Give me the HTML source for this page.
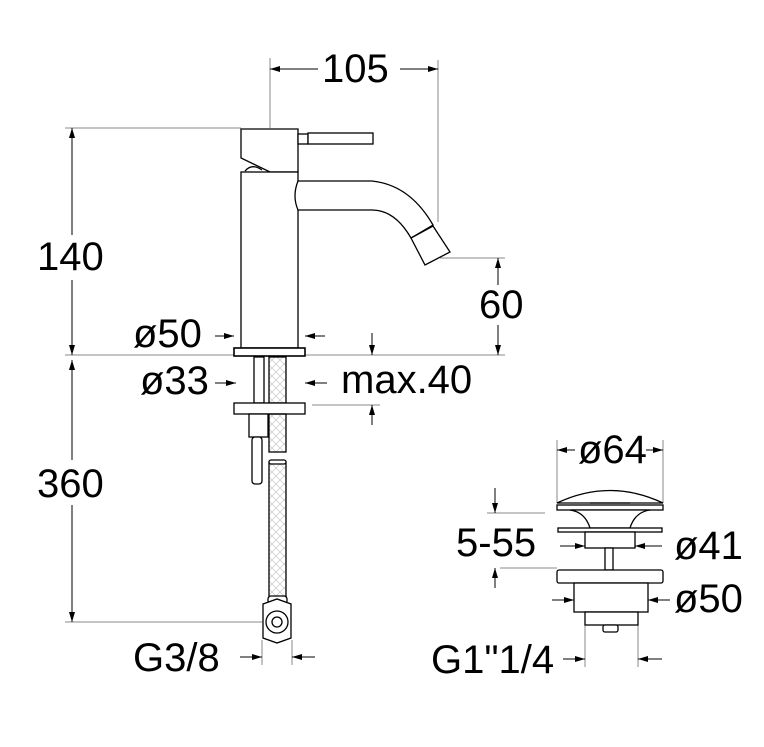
<!DOCTYPE html>
<html><head><meta charset="utf-8"><style>html,body{margin:0;background:#fff}svg{display:block}text{font-family:"Liberation Sans",Arial,sans-serif;font-size:40px;fill:#000}</style></head><body>
<svg width="764" height="747" viewBox="0 0 764 747" xmlns="http://www.w3.org/2000/svg">
<defs>
<marker id="a" viewBox="0 0 10 6" refX="10" refY="3" markerWidth="10" markerHeight="6" markerUnits="userSpaceOnUse" orient="auto"><path d="M0,0L10,3L0,6z" fill="#000"/></marker>
<pattern id="h" width="8" height="8" patternUnits="userSpaceOnUse"><path d="M0,0L8,8M8,0L0,8" stroke="#bbb" stroke-width="0.6"/></pattern>
</defs>
<g stroke="#888" stroke-width="1" fill="none">
<line x1="270" y1="58" x2="270" y2="128"/>
<line x1="438" y1="60" x2="438" y2="222"/>
<line x1="65" y1="128" x2="241" y2="128"/>
<line x1="65" y1="355" x2="505" y2="355"/>
<line x1="440" y1="258" x2="505" y2="258"/>
<line x1="312" y1="405" x2="380" y2="405"/>
<line x1="65" y1="622" x2="262" y2="622"/>
<line x1="262" y1="640" x2="262" y2="665"/>
<line x1="292" y1="640" x2="292" y2="665"/>
<line x1="557" y1="440" x2="557" y2="503"/>
<line x1="663" y1="440" x2="663" y2="503"/>
<line x1="487" y1="513" x2="545" y2="513"/>
<line x1="500" y1="568" x2="557" y2="568"/>
<line x1="585" y1="612" x2="585" y2="667"/>
<line x1="638" y1="612" x2="638" y2="667"/>
<line x1="270" y1="130" x2="270" y2="330" stroke-dasharray="12,4"/>
</g>
<g stroke="#000" stroke-width="1" fill="none">
<line x1="270" y1="69" x2="318" y2="69"/><line x1="284" y1="69" x2="270" y2="69" marker-end="url(#a)"/>
<line x1="400" y1="69" x2="438" y2="69"/><line x1="424" y1="69" x2="438" y2="69" marker-end="url(#a)"/>
<line x1="72" y1="128" x2="72" y2="235"/><line x1="72" y1="142" x2="72" y2="128" marker-end="url(#a)"/>
<line x1="72" y1="280" x2="72" y2="355"/><line x1="72" y1="341" x2="72" y2="355" marker-end="url(#a)"/>
<line x1="72" y1="360" x2="72" y2="460"/><line x1="72" y1="374" x2="72" y2="360" marker-end="url(#a)"/>
<line x1="72" y1="505" x2="72" y2="622"/><line x1="72" y1="608" x2="72" y2="622" marker-end="url(#a)"/>
<line x1="498" y1="258" x2="498" y2="285"/><line x1="498" y1="272" x2="498" y2="258" marker-end="url(#a)"/>
<line x1="498" y1="325" x2="498" y2="355"/><line x1="498" y1="341" x2="498" y2="355" marker-end="url(#a)"/>
<line x1="215" y1="336" x2="234" y2="336" marker-end="url(#a)"/>
<line x1="325" y1="336" x2="305" y2="336" marker-end="url(#a)"/>
<line x1="215" y1="383" x2="236" y2="383" marker-end="url(#a)"/>
<line x1="327" y1="383" x2="305" y2="383" marker-end="url(#a)"/>
<line x1="372" y1="333" x2="372" y2="355" marker-end="url(#a)"/>
<line x1="372" y1="425" x2="372" y2="405" marker-end="url(#a)"/>
<line x1="240" y1="657" x2="262" y2="657" marker-end="url(#a)"/>
<line x1="315" y1="657" x2="292" y2="657" marker-end="url(#a)"/>
<line x1="557" y1="450" x2="575" y2="450"/><line x1="570" y1="450" x2="557" y2="450" marker-end="url(#a)"/>
<line x1="646" y1="450" x2="663" y2="450"/><line x1="650" y1="450" x2="663" y2="450" marker-end="url(#a)"/>
<line x1="495" y1="488" x2="495" y2="513" marker-end="url(#a)"/>
<line x1="495" y1="588" x2="495" y2="568" marker-end="url(#a)"/>
<line x1="560" y1="546" x2="585" y2="546" marker-end="url(#a)"/>
<line x1="662" y1="546" x2="635" y2="546" marker-end="url(#a)"/>
<line x1="552" y1="600" x2="574" y2="600" marker-end="url(#a)"/>
<line x1="670" y1="600" x2="648" y2="600" marker-end="url(#a)"/>
<line x1="563" y1="659" x2="585" y2="659" marker-end="url(#a)"/>
<line x1="662" y1="659" x2="638" y2="659" marker-end="url(#a)"/>
</g>
<g stroke="#000" stroke-width="1.3" fill="#fff">
<path d="M241,129H298V172H270L241,158Z"/>
<path d="M245,171Q252,163 262,170"/>
<rect x="298" y="134" width="10" height="10"/>
<rect x="308" y="133" width="65" height="11"/>
<rect x="241" y="172" width="57" height="176"/>
<path d="M298,181H372Q410,185 433,225L411,238Q395,210 372,210H298Q292,196 298,181Z"/>
<path d="M411,238L433,226L450,252L425,265Z"/>
<rect x="234" y="348" width="71" height="8" stroke-width="1.6"/>
<rect x="254" y="357" width="10" height="46"/>
<rect x="269" y="357" width="17" height="46" fill="url(#h)"/>
<rect x="234" y="403" width="71" height="11"/>
<rect x="249" y="414" width="19" height="23"/>
<rect x="252" y="437" width="10" height="47" rx="3"/>
<rect x="269" y="414" width="17" height="38" fill="url(#h)"/>
<rect x="269" y="462" width="17" height="138" fill="url(#h)"/>
<rect x="269" y="460" width="17" height="4" rx="2"/>
<rect x="268" y="596" width="19" height="8" rx="3"/>
<path d="M263,604L277,599L291,604V638L277,643L263,638Z"/>
<circle cx="277" cy="622" r="11"/><circle cx="277" cy="622" r="5"/>
<path d="M557,503Q610,478 663,503Z"/>
<line x1="590" y1="503" x2="630" y2="503"/>
<rect x="557" y="505" width="106" height="5"/>
<path d="M570,510Q585,512 590,528H630Q635,512 650,510Z"/>
<rect x="558" y="528" width="104" height="4"/>
<rect x="585" y="532" width="50" height="16"/>
<rect x="605" y="548" width="8" height="22"/>
<rect x="557" y="570" width="106" height="13" rx="2"/>
<rect x="574" y="583" width="74" height="29"/>
<rect x="585" y="612" width="53" height="13"/>
<rect x="603" y="625" width="15" height="7" rx="2"/>
</g>
<text x="322" y="82">105</text>
<text x="37" y="270">140</text>
<text x="479" y="318">60</text>
<text x="133" y="347">ø50</text>
<text x="140" y="394">ø33</text>
<text x="341" y="393">max.40</text>
<text x="37" y="497">360</text>
<text x="133" y="671">G3/8</text>
<text x="578" y="463">ø64</text>
<text x="456" y="556">5-55</text>
<text x="674" y="559">ø41</text>
<text x="674" y="612">ø50</text>
<text x="431" y="673">G1"1/4</text>
</svg>
</body></html>
